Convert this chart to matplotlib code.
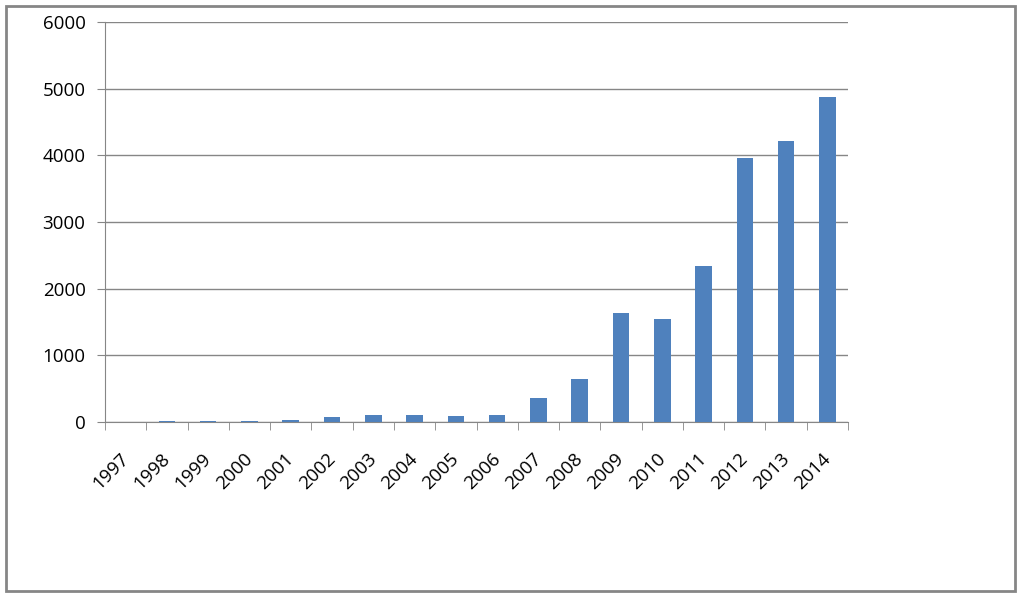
import matplotlib.pyplot as plt
import matplotlib.transforms as mtransforms
from matplotlib.patches import Rectangle

years = ["1997", "1998", "1999", "2000", "2001", "2002", "2003", "2004", "2005",
         "2006", "2007", "2008", "2009", "2010", "2011", "2012", "2013", "2014"]
counts = [0, 10, 10, 10, 35, 80, 110, 110, 95, 110, 365, 645, 1635, 1545,
          2345, 3965, 4215, 4875]
yticks = [0, 1000, 2000, 3000, 4000, 5000, 6000]

plt.rcParams['font.family'] = ['Open Sans', 'DejaVu Sans']

fig = plt.figure(figsize=(10.22, 5.99), dpi=100)
ax = fig.add_axes([105 / 1022, 1 - 422 / 599, 743 / 1022, 400 / 599])

x = list(range(len(years)))
ax.bar(x, counts, width=0.4, color="#4f81bd", zorder=3)

ax.set_xlim(-0.5, len(years) - 0.5)
ax.set_ylim(0, 6000)
ax.set_yticks(yticks)
ax.set_yticklabels([str(v) for v in yticks], fontsize=13.5)
ax.yaxis.grid(True, color="#868686", linewidth=1, zorder=0)

# category labels sit between the boundary ticks
ax.set_xticks(x)
ax.set_xticklabels(years, fontsize=13.5, rotation=45, ha='right',
                   rotation_mode='anchor')
ax.tick_params(axis='x', length=0, pad=20)
shift = mtransforms.ScaledTranslation(-6 / 100, 0, fig.dpi_scale_trans)
for lbl in ax.get_xticklabels():
    lbl.set_transform(lbl.get_transform() + shift)
ax.set_xticks([i - 0.5 for i in range(len(years) + 1)], minor=True)
ax.tick_params(axis='x', which='minor', length=6, color="#868686", direction='out')
ax.tick_params(axis='y', length=6, color="#868686", pad=8)

for side in ["top", "right"]:
    ax.spines[side].set_visible(False)
for side in ["left", "bottom"]:
    ax.spines[side].set_color("#868686")

# outer chart frame
fig.patches.append(Rectangle((6 / 1022, 1 - 591 / 599), 1009 / 1022, 585 / 599,
                             transform=fig.transFigure, fill=False,
                             edgecolor="#868686", linewidth=2))

fig.savefig("out.png", dpi=100)
